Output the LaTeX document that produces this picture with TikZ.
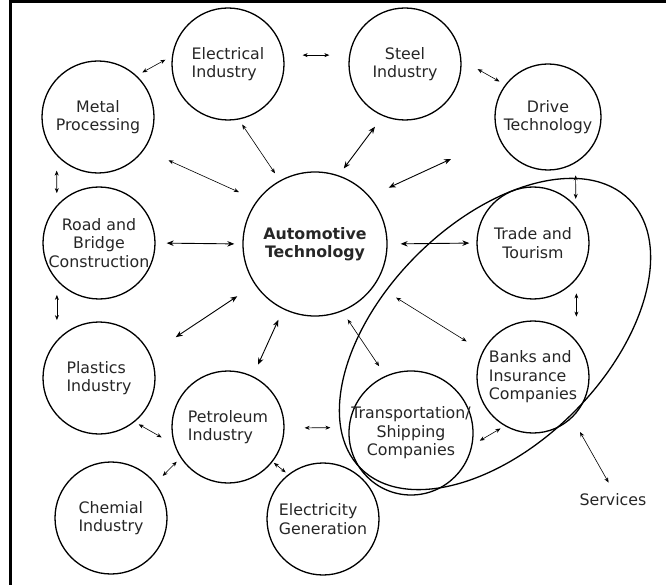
\documentclass[tikz,border=0pt]{standalone}
\usepackage{fontspec}
\setmainfont{DejaVu Sans}
\usetikzlibrary{arrows.meta,shapes.geometric}

\begin{document}
\begin{tikzpicture}[x=1pt, y=-1pt,
			every node/.style = {font=\fontsize{15.8}{18.5}\selectfont, text=black!85},
			sector/.style = {shape=circle, draw, line width=1.3pt,
				minimum size=112pt, inner sep=-30pt, align=center},
			link/.style = {{Stealth[length=5pt,width=4pt]}-{Stealth[length=5pt,width=4pt]}, line width=0.6pt},
			strong/.style = {{Stealth[length=7pt,width=5.5pt]}-{Stealth[length=7pt,width=5.5pt]}, line width=0.9pt},
			spare/.style 2 args = {shorten <=#1pt, shorten >=#2pt}]
			\useasboundingbox (0,0) rectangle (666,585);
			\draw[line width=3pt] (10.5,590) -- (10.5,2) -- (670,2);

			\node[sector, minimum size=144pt, font=\fontsize{15.8}{18.5}\selectfont\bfseries] (auto) at (315,244) {Automotive\\Technology};
			\node[sector, align=left] (elec) at (228,64) {Electrical\\Industry};
			\node[sector] (steel) at (405,64) {Steel\\Industry};
			\node[sector] (metal) at (98,117) {Metal\\Processing};
			\node[sector, minimum size=106pt] (drive) at (548,117) {Drive\\Technology};
			\node[sector] (road) at (99,243) {Road and\\Bridge\\Construction};
			\node[sector] (trade) at (533,243) {Trade and\\Tourism};
			\node[sector, align=left] (plast) at (99,378) {Plastics\\Industry};
			\node[sector, align=left] (banks) at (533,377) {Banks and\\Insurance\\Companies};
			\node[sector, align=left] (petro) at (228,427) {Petroleum\\Industry};
			\node[sector, minimum size=124pt] (trans) at (411,433) {Transportation/\\Shipping\\Companies};
			\node[sector, align=left] (chem) at (111,518) {Chemial\\Industry};
			\node[sector, align=left] (power) at (323,519) {Electricity\\Generation};
			\node (svc) at (613,500) {Services};
			\node[shape=ellipse, draw, line width=1.3pt, minimum width=380pt, minimum height=222pt,
				rotate=45] (group) at (495,334) {};
			\coordinate (outer) at (451,159);
			\coordinate (edge) at (580,432);

			\draw[link, spare={6.5}{7.5}] (metal.47) -- (elec.172);
			\draw[link, spare={18.7}{19.7}] (elec.9) -- (steel.171);
			\draw[link, spare={18.5}{6.5}] (steel.4) -- (drive.143);
			\draw[link, spare={6}{8.6}] (elec.-79) -- (auto.119);
			\draw[link, spare={26.5}{19.9}] (metal.-35) -- (auto.143.5);
			\draw[strong, spare={13.2}{8.5}] (steel.-113) -- (auto.71.5);
			\draw[strong, spare={20.8}{0}] (auto.41.4) -- (outer);
			\draw[link, spare={15}{12}] (metal.-137) -- (road.138);
			\draw[strong, spare={11}{8}] (road.0) -- (auto.180);
			\draw[link, spare={14}{20}] (road.-138) -- (plast.138);
			\draw[strong, spare={21}{30.5}] (auto.-146) -- (plast.25.5);
			\draw[strong, spare={11.6}{12.5}] (auto.-116.6) -- (petro.64.7);
			\draw[link, spare={4.7}{14.3}] (plast.-51.4) -- (petro.-162.5);
			\draw[link, spare={5.4}{10.1}] (petro.-147.4) -- (chem.38.5);
			\draw[link, spare={1.6}{3.1}] (petro.-38.7) -- (power.128);
			\draw[link, spare={20}{18.2}] (petro.-1) -- (trans.175.4);
			\draw[link, spare={12.4}{7}] (drive.-59.4) -- (trade.41.4);
			\draw[strong, spare={13}{7}] (auto.0) -- (trade.180);
			\draw[link, spare={14}{24}] (trade.-40) -- (banks.40);
			\draw[link, spare={24.6}{18.7}] (auto.-34.7) -- (banks.153.4);
			\draw[link, spare={9.7}{11.5}] (auto.-68.2) -- (trans.114.5);
			\draw[link, spare={8.4}{4.8}] (trans.-11.4) -- (banks.-120);
			\draw[link, spare={9}{0}] (svc.north) -- (edge);
		\end{tikzpicture}
\end{document}
